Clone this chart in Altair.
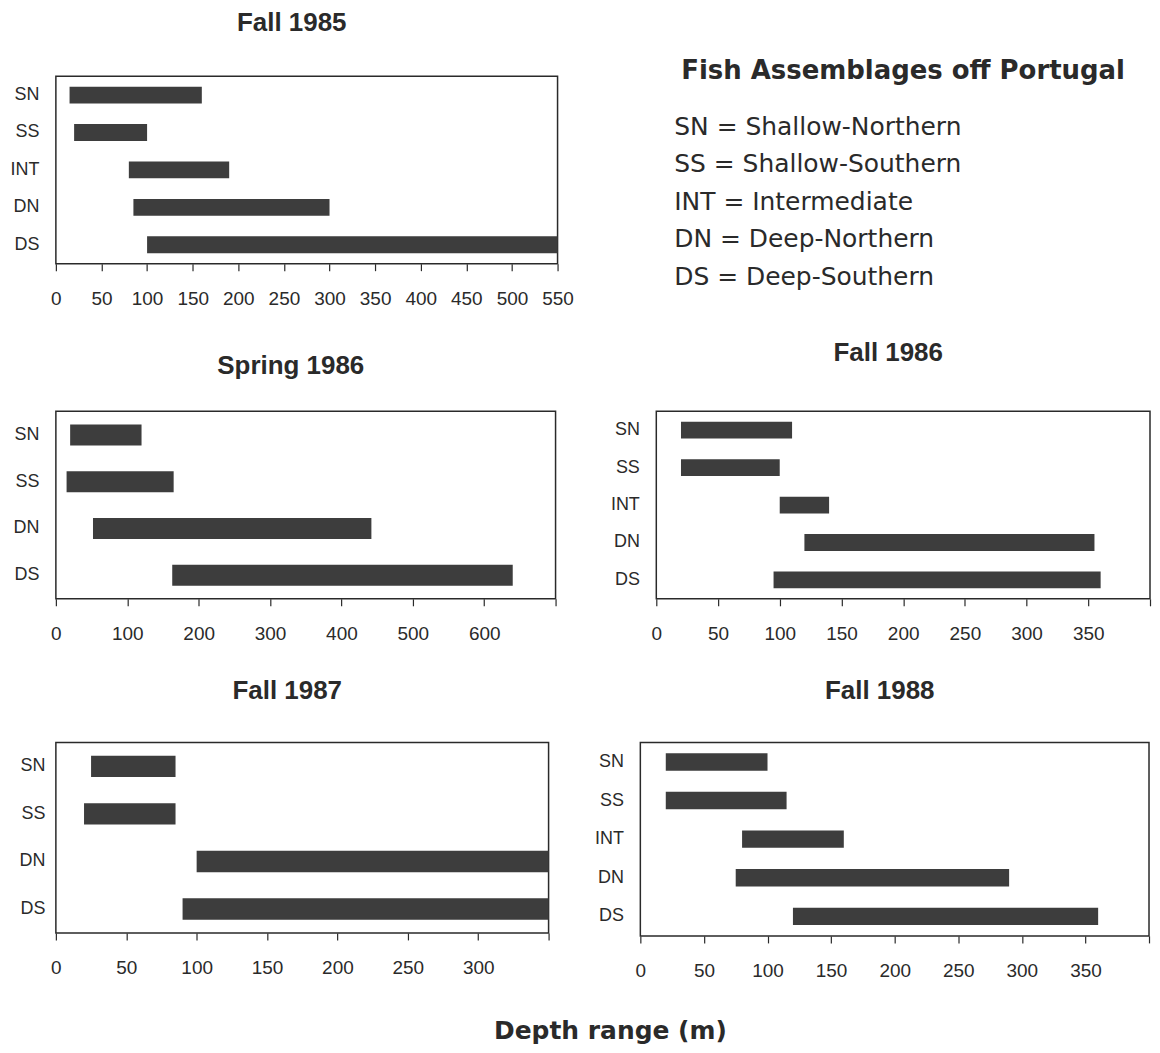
import altair as alt
import pandas as pd

# ---------------- data ----------------
groups5 = ["SN", "SS", "INT", "DN", "DS"]
groups4 = ["SN", "SS", "DN", "DS"]

fall85_start = [15, 20, 80, 85, 100]
fall85_end = [160, 100, 190, 300, 550]

spring86_start = [20, 15, 52, 163]
spring86_end = [120, 165, 442, 640]

fall86_start = [20, 20, 100, 120, 95]
fall86_end = [110, 100, 140, 355, 360]

fall87_start = [25, 20, 100, 90]
fall87_end = [85, 85, 350, 350]

fall88_start = [20, 20, 80, 75, 120]
fall88_end = [100, 115, 160, 290, 360]

headline = ["Fish Assemblages off Portugal"]
legend_lines = [
    "SN = Shallow-Northern",
    "SS = Shallow-Southern",
    "INT = Intermediate",
    "DN = Deep-Northern",
    "DS = Deep-Southern",
]
legend_rows = [1, 2, 3, 4, 5]
x_title = ["Depth range (m)"]

BAR = "#3d3d3d"
INK = "#2a2a2a"


def panel(title, groups, starts, ends, xmax, step, width, height,
          min_extent, show_max, title_offset, label_pad=17):
    df = pd.DataFrame({"group": groups, "start": starts, "end": ends})
    if show_max:
        label_expr = "datum.label"
    else:
        label_expr = f"datum.value >= {xmax} ? '' : datum.label"
    return (
        alt.Chart(df)
        .mark_bar(color=BAR)
        .encode(
            x=alt.X(
                "start:Q",
                scale=alt.Scale(domain=[0, xmax], nice=False, zero=True),
                axis=alt.Axis(
                    values=list(range(0, xmax + 1, step)),
                    labelExpr=label_expr,
                    title=None,
                    domain=False,
                    grid=False,
                    tickSize=7,
                    labelFontSize=19,
                    labelPadding=19,
                    labelFlush=False,
                ),
            ),
            x2="end:Q",
            y=alt.Y(
                "group:N",
                sort=groups,
                scale=alt.Scale(paddingInner=0.55, paddingOuter=0.28),
                axis=alt.Axis(
                    title=None,
                    ticks=False,
                    domain=False,
                    labelFontSize=18,
                    labelPadding=label_pad,
                    minExtent=min_extent,
                ),
            ),
        )
        .properties(
            width=width,
            height=height,
            title=alt.TitleParams(title, offset=title_offset),
        )
    )


p1 = panel("Fall 1985", groups5, fall85_start, fall85_end, 550, 50,
           503, 188, 47, True, 40)
p2 = panel("Spring 1986", groups4, spring86_start, spring86_end, 700, 100,
           501, 188, 41, False, 32)
p3 = panel("Fall 1986", groups5, fall86_start, fall86_end, 400, 50,
           495, 188, 45, False, 45)
p4 = panel("Fall 1987", groups4, fall87_start, fall87_end, 350, 50,
           494, 191, 36, False, 39, label_pad=11)
p5 = panel("Fall 1988", groups5, fall88_start, fall88_end, 400, 50,
           510, 194, 46, False, 39)

# ---------------- text block (top right) ----------------
yscale = alt.Scale(domain=[-0.36, 5.77], reverse=True, nice=False, zero=False)
head_df = pd.DataFrame({"row": [0], "line": headline})
leg_df = pd.DataFrame({"row": legend_rows, "line": legend_lines})

head = alt.Chart(head_df).mark_text(
    align="left", baseline="middle", font="DejaVu Sans", fontWeight="bold",
    fontSize=26, color=INK, dx=7, dy=-19,
).encode(
    x=alt.value(0),
    y=alt.Y("row:Q", scale=yscale, axis=None),
    text="line:N",
)
legend = alt.Chart(leg_df).mark_text(
    align="left", baseline="middle", font="DejaVu Sans",
    fontSize=25, color=INK,
).encode(
    x=alt.value(0),
    y=alt.Y("row:Q", scale=yscale, axis=None),
    text="line:N",
)
text_panel = alt.layer(head, legend).properties(
    width=460, height=230,
    view=alt.ViewBackground(stroke="transparent"),
)

# ---------------- shared x label (bottom) ----------------
xlab_df = pd.DataFrame({"line": x_title})
xlab = alt.Chart(xlab_df).mark_text(
    font="DejaVu Sans", fontWeight="bold", fontSize=25, color=INK,
    baseline="middle", dx=11,
).encode(text="line:N").properties(
    width=1090, height=26,
    view=alt.ViewBackground(stroke="transparent"),
)

row1 = alt.hconcat(p1, text_panel, spacing=99)
row2 = alt.hconcat(p2, p3, spacing=52)
row3 = alt.hconcat(p4, p5, spacing=43)

chart = (
    alt.vconcat(
        row1,
        alt.vconcat(alt.vconcat(row2, row3, spacing=32), xlab, spacing=35),
        spacing=30,
    )
    .properties(padding=0)
    .configure(background="white")
    .configure_view(stroke=INK, strokeWidth=1.5)
    .configure_axis(
        labelColor=INK, tickColor=INK, labelFont="Liberation Sans",
        tickWidth=1.2,
    )
    .configure_title(
        font="Liberation Sans", fontSize=26, fontWeight="bold", color=INK,
        anchor="middle", frame="group", dx=-15,
    )
)

chart.save("out.html", embed_options={"renderer": "svg", "actions": False})
